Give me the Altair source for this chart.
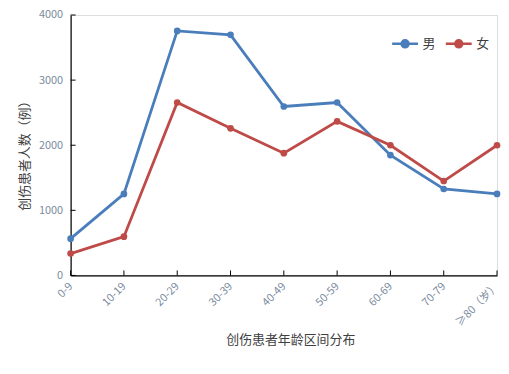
import altair as alt
import pandas as pd

categories = ["0-9", "10-19", "20-29", "30-39", "40-49", "50-59", "60-69", "70-79", "≥80（岁）"]
male = [565, 1252, 3756, 3695, 2595, 2656, 1847, 1328, 1252]
female = [336, 595, 2656, 2260, 1878, 2366, 2000, 1450, 2000]
series_names = ["男", "女"]
colors = ["#4A7EBB", "#BE4B48"]
y_ticks = [0, 1000, 2000, 3000, 4000]

rows = []
for c, m, f in zip(categories, male, female):
    rows.append({"age": c, "sex": "男", "n": m})
    rows.append({"age": c, "sex": "女", "n": f})
df = pd.DataFrame(rows)

W, H = 429, 262
LBL = "#7b8ba0"
FONT = "Noto Sans CJK SC"

xscale = alt.Scale(type="point", domain=categories, padding=0)
yscale = alt.Scale(domain=[0, 4000])

xaxis = alt.Axis(
    title="创伤患者年龄区间分布",
    titleFont=FONT, titleFontSize=13, titleFontWeight="normal", titleColor="#404040",
    titleX=221, titleY=64, titleBaseline="middle",
    labelAngle=-45, labelAlign="right", labelBaseline="middle", labelPadding=9,
    labelFont=FONT, labelFontSize=11, labelColor=LBL, labelOverlap=False,
    ticks=False, domainColor="black", domainWidth=1.2, grid=False,
)
yaxis = alt.Axis(
    title="创伤患者人数（例）",
    titleFont=FONT, titleFontSize=13, titleFontWeight="normal", titleColor="#404040",
    titleX=-46, titleY=138, titleAlign="center", titleBaseline="middle", titleAngle=-90,
    values=y_ticks, format="d", labelFont=FONT, labelFontSize=11, labelColor=LBL, labelPadding=8,
    ticks=False, domainColor="black", domainWidth=1.2, grid=False,
)

color = alt.Color(
    "sex:N",
    scale=alt.Scale(domain=series_names, range=colors),
    legend=alt.Legend(
        title=None,
        orient="none",
        direction="horizontal",
        legendX=322,
        legendY=14,
        symbolType="M-1,0H1M-0.27,0A0.27,0.27,0,1,1,0.27,0A0.27,0.27,0,1,1,-0.27,0Z",
        symbolSize=676,
        symbolStrokeWidth=2.5,
        labelFont=FONT,
        labelFontSize=13,
        labelColor="#404040",
        labelOffset=3,
        columnPadding=4,
    ),
)

X = alt.X("age:N", sort=categories, scale=xscale, axis=xaxis)

lines = alt.Chart(df).mark_line(strokeWidth=2.8).encode(
    x=X,
    y=alt.Y("n:Q", scale=yscale, axis=yaxis),
    color=color,
    detail="sex:N",
)

points = alt.Chart(df).mark_point(filled=True, size=45, opacity=1).encode(
    x=X,
    y=alt.Y("n:Q", scale=yscale, axis=yaxis),
    color=color,
)

xt = alt.Chart(pd.DataFrame({"age": categories})).mark_rule(color="black", strokeWidth=1).encode(
    x=X,
    y=alt.value(H), y2=alt.value(H - 5),
)
yt = alt.Chart(pd.DataFrame({"n": y_ticks})).mark_rule(color="black", strokeWidth=1).encode(
    y=alt.Y("n:Q", scale=yscale, axis=yaxis),
    x=alt.value(0), x2=alt.value(5),
)

chart = alt.layer(lines, points, xt, yt).properties(
    width=W, height=H,
    autosize=alt.AutoSizeParams(type="none"),
    padding={"left": 63, "top": 6, "right": 4, "bottom": 80},
).configure_view(stroke=None).configure(background="white")

chart.save("out.html", embed_options={"renderer": "svg", "actions": False})
